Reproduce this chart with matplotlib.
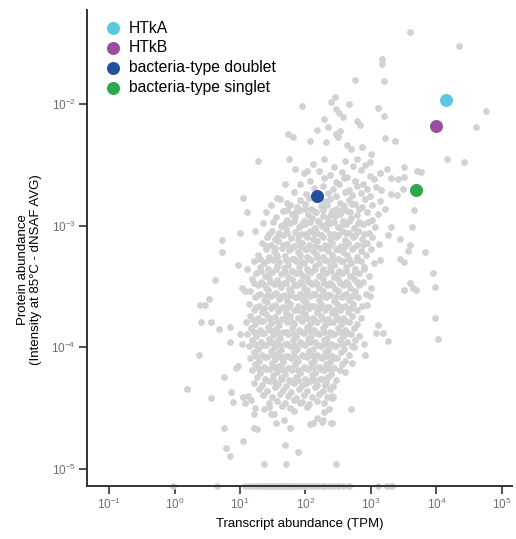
import numpy as np
import matplotlib
matplotlib.use("Agg")
import matplotlib.pyplot as plt
from matplotlib.ticker import FixedLocator, NullLocator

plt.rcParams["font.family"] = ["Liberation Sans", "DejaVu Sans"]
plt.rcParams["mathtext.fontset"] = "custom"
plt.rcParams["mathtext.rm"] = "Liberation Sans"
plt.rcParams["mathtext.default"] = "regular"
plt.rcParams["axes.unicode_minus"] = False

# all proteins, (log10 TPM, log10 dNSAF)
upper_tail = [
    (3.59, -1.41), (4.35, -1.52), (3.17, -1.63), (3.17, -1.67), (2.75, -1.80), (3.20, -1.81),
    (1.95, -2.02), (2.45, -1.94), (2.39, -1.98), (2.67, -2.00), (3.10, -2.03), (3.20, -2.10),
    (2.46, -2.04), (2.51, -2.07), (2.58, -2.11), (2.29, -2.12), (4.75, -2.06), (4.61, -2.19),
    (2.78, -2.14), (2.83, -2.17), (2.18, -2.21), (2.35, -2.19), (2.52, -2.22), (2.47, -2.25),
    (2.49, -2.27), (1.73, -2.25), (1.81, -2.27), (2.07, -2.30), (2.31, -2.31), (2.64, -2.34),
    (2.69, -2.37), (2.87, -2.35), (3.21, -2.28), (3.36, -2.30), (3.00, -2.41), (1.75, -2.45),
    (2.28, -2.45), (4.16, -2.45), (4.42, -2.48), (2.78, -2.45), (2.99, -2.48), (1.84, -2.53),
    (2.03, -2.55), (3.50, -2.52), (3.71, -2.55), (3.77, -2.56), (3.25, -2.53), (3.42, -2.62),
    (3.50, -2.60), (3.30, -2.61), (3.16, -2.71), (3.30, -2.74), (3.40, -2.75), (3.49, -2.70),
    (3.65, -2.87), (1.92, -2.66), (1.72, -2.81), (1.77, -2.83), (1.28, -2.47), (1.05, -2.77),
    (1.56, -2.77),
]

right_tail = [
    (3.63, -3.01), (3.44, -3.11), (3.59, -3.16), (3.57, -3.21), (3.83, -3.22), (3.31, -3.01),
    (3.26, -3.08), (3.12, -3.15), (3.14, -3.28), (3.44, -3.27), (3.50, -3.30), (3.94, -3.39),
    (3.97, -3.50), (3.59, -3.47), (3.64, -3.51), (3.68, -3.53), (3.51, -3.53), (3.97, -3.76),
    (4.02, -3.93), (3.26, -3.95), (3.11, -3.82), (3.18, -3.88), (3.08, -3.88), (2.98, -3.58),
    (2.94, -3.65), (2.91, -4.06), (2.89, -3.97), (2.71, -4.13), (2.42, -4.41), (2.70, -4.51),
    (2.41, -4.62), (2.74, -4.00), (2.61, -4.20),
]

left_tail = [
    (1.10, -2.89), (0.72, -3.12), (0.72, -3.22), (1.00, -3.06), (1.23, -3.04), (0.97, -3.32),
    (0.62, -3.45), (1.11, -3.36), (0.39, -3.65), (0.46, -3.65), (0.53, -3.60), (0.40, -3.79),
    (0.56, -3.79), (0.68, -3.85), (0.84, -3.83), (0.37, -4.06), (0.85, -3.96), (1.00, -3.89),
    (1.03, -3.97), (0.76, -4.24), (0.94, -4.17), (0.97, -4.15), (1.03, -3.51), (1.08, -3.54),
]

lower_tail = [
    (0.19, -4.34), (0.56, -4.42), (0.87, -4.37), (0.90, -4.45), (0.75, -4.66), (1.04, -4.77),
    (0.78, -4.83), (0.84, -4.89), (1.22, -4.66), (1.37, -4.96), (1.71, -4.96), (1.68, -4.80),
    (1.89, -4.86), (2.46, -4.96), (1.77, -4.66), (1.55, -4.62), (1.67, -4.60), (2.07, -4.63),
    (2.11, -4.62), (2.18, -4.58), (2.27, -4.60), (2.39, -4.62), (2.28, -4.53), (2.36, -4.51),
    (1.23, -4.50), (1.22, -4.55), (1.48, -4.55), (1.52, -4.55), (2.40, -4.42), (2.41, -4.40),
    (2.30, -4.31), (1.04, -4.41), (1.12, -4.40), (1.17, -4.43), (1.07, -4.46), (1.36, -4.51),
    (1.44, -4.46), (1.44, -4.49), (1.64, -4.48), (1.77, -4.50), (1.82, -4.52), (1.91, -4.46),
    (2.03, -4.49), (1.26, -4.67), (2.25, -4.61),
]

core = [
    (2.12, -2.49), (2.43, -2.52), (2.60, -2.47), (2.73, -2.51), (2.91, -2.50),
    (1.98, -2.57), (2.21, -2.55), (2.38, -2.58), (2.55, -2.56), (2.64, -2.60), (2.84, -2.54), (2.99, -2.59), (3.13, -2.57),
    (2.07, -2.63), (2.29, -2.61), (2.47, -2.64), (2.59, -2.61), (2.76, -2.63), (2.88, -2.66), (3.04, -2.62),
    (1.68, -2.66), (2.13, -2.69), (2.26, -2.67), (2.42, -2.70), (2.51, -2.66), (2.67, -2.71), (2.79, -2.67), (2.94, -2.70), (3.08, -2.68),
    (1.83, -2.72), (2.01, -2.74), (2.34, -2.73), (2.46, -2.76), (2.60, -2.72), (2.71, -2.75), (2.84, -2.73), (2.99, -2.76),
    (1.61, -2.78), (1.91, -2.79), (2.05, -2.77), (2.28, -2.80), (2.37, -2.78), (2.53, -2.81), (2.66, -2.79), (2.75, -2.82), (2.91, -2.78), (3.14, -2.80),
    (1.47, -2.83), (1.87, -2.85), (1.99, -2.82), (2.09, -2.86), (2.23, -2.84), (2.33, -2.83), (2.47, -2.86), (2.59, -2.84), (2.71, -2.82), (2.86, -2.85), (3.01, -2.83), (3.21, -2.86),
    (1.40, -2.89), (1.65, -2.88), (1.80, -2.90), (1.92, -2.87), (2.04, -2.91), (2.16, -2.89), (2.27, -2.92), (2.41, -2.88), (2.52, -2.90), (2.64, -2.88), (2.78, -2.91), (2.94, -2.89), (3.10, -2.90),
    (1.55, -2.93), (1.72, -2.95), (1.84, -2.93), (1.98, -2.96), (2.10, -2.94), (2.20, -2.97), (2.35, -2.94), (2.45, -2.92), (2.58, -2.96), (2.70, -2.94), (2.82, -2.97), (3.02, -2.95),
    (1.35, -2.98), (1.62, -3.00), (1.76, -2.98), (1.90, -3.01), (2.00, -2.99), (2.14, -3.02), (2.25, -3.00), (2.38, -2.98), (2.49, -3.01), (2.62, -2.99), (2.74, -3.02), (2.88, -2.99), (3.06, -3.01),
    (1.49, -3.04), (1.60, -3.06), (1.70, -3.03), (1.84, -3.05), (1.94, -3.07), (2.07, -3.04), (2.18, -3.06), (2.31, -3.03), (2.43, -3.07), (2.55, -3.04), (2.66, -3.06), (2.80, -3.04), (2.97, -3.06),
    (1.41, -3.09), (1.54, -3.11), (1.65, -3.08), (1.78, -3.10), (1.88, -3.12), (2.02, -3.09), (2.12, -3.11), (2.24, -3.08), (2.37, -3.11), (2.46, -3.09), (2.60, -3.12), (2.72, -3.09), (2.86, -3.11), (3.02, -3.09),
    (1.33, -3.14), (1.47, -3.16), (1.58, -3.13), (1.72, -3.15), (1.82, -3.17), (1.95, -3.14), (2.06, -3.16), (2.18, -3.13), (2.30, -3.16), (2.40, -3.14), (2.54, -3.17), (2.65, -3.14), (2.78, -3.16), (2.94, -3.14),
    (1.39, -3.19), (1.52, -3.21), (1.64, -3.18), (1.75, -3.20), (1.88, -3.22), (1.99, -3.19), (2.11, -3.21), (2.22, -3.18), (2.35, -3.21), (2.47, -3.19), (2.57, -3.22), (2.71, -3.19), (2.85, -3.21), (3.00, -3.19),
    (1.28, -3.24), (1.44, -3.26), (1.55, -3.23), (1.68, -3.25), (1.80, -3.27), (1.92, -3.24), (2.03, -3.26), (2.16, -3.23), (2.27, -3.26), (2.40, -3.24), (2.50, -3.27), (2.63, -3.24), (2.78, -3.26), (2.92, -3.24),
    (1.22, -3.29), (1.36, -3.31), (1.50, -3.28), (1.60, -3.30), (1.74, -3.32), (1.85, -3.29), (1.97, -3.31), (2.09, -3.28), (2.20, -3.31), (2.34, -3.29), (2.44, -3.32), (2.58, -3.29), (2.69, -3.31), (2.84, -3.29), (3.05, -3.31),
    (1.31, -3.34), (1.42, -3.36), (1.56, -3.33), (1.67, -3.35), (1.79, -3.37), (1.90, -3.34), (2.02, -3.36), (2.15, -3.33), (2.26, -3.36), (2.37, -3.34), (2.51, -3.37), (2.62, -3.34), (2.76, -3.36), (2.90, -3.34),
    (1.25, -3.39), (1.38, -3.41), (1.49, -3.38), (1.62, -3.40), (1.73, -3.42), (1.86, -3.39), (1.96, -3.41), (2.09, -3.38), (2.21, -3.41), (2.31, -3.39), (2.44, -3.42), (2.56, -3.39), (2.68, -3.41), (2.82, -3.39), (2.97, -3.41),
    (1.19, -3.44), (1.32, -3.46), (1.45, -3.43), (1.57, -3.45), (1.67, -3.47), (1.80, -3.44), (1.92, -3.46), (2.03, -3.43), (2.15, -3.46), (2.27, -3.44), (2.38, -3.47), (2.50, -3.44), (2.62, -3.46), (2.74, -3.44), (2.88, -3.46),
    (1.28, -3.49), (1.39, -3.51), (1.52, -3.48), (1.63, -3.50), (1.75, -3.52), (1.87, -3.49), (1.98, -3.51), (2.10, -3.48), (2.21, -3.51), (2.33, -3.49), (2.45, -3.52), (2.57, -3.49), (2.68, -3.51), (2.82, -3.49), (3.00, -3.51),
    (1.16, -3.54), (1.31, -3.56), (1.43, -3.53), (1.55, -3.55), (1.68, -3.57), (1.78, -3.54), (1.91, -3.56), (2.02, -3.53), (2.15, -3.56), (2.26, -3.54), (2.38, -3.57), (2.49, -3.54), (2.62, -3.56), (2.75, -3.54), (2.92, -3.56),
    (1.23, -3.59), (1.36, -3.61), (1.48, -3.58), (1.60, -3.60), (1.72, -3.62), (1.84, -3.59), (1.96, -3.61), (2.07, -3.58), (2.20, -3.61), (2.31, -3.59), (2.43, -3.62), (2.55, -3.59), (2.66, -3.61), (2.80, -3.59),
    (1.13, -3.64), (1.29, -3.66), (1.41, -3.63), (1.54, -3.65), (1.65, -3.67), (1.77, -3.64), (1.89, -3.66), (2.01, -3.63), (2.13, -3.66), (2.24, -3.64), (2.36, -3.67), (2.48, -3.64), (2.60, -3.66), (2.72, -3.64), (2.87, -3.66),
    (1.21, -3.69), (1.34, -3.71), (1.47, -3.68), (1.58, -3.70), (1.70, -3.72), (1.83, -3.69), (1.94, -3.71), (2.06, -3.68), (2.17, -3.71), (2.30, -3.69), (2.41, -3.72), (2.53, -3.69), (2.65, -3.71), (2.78, -3.69),
    (1.16, -3.74), (1.28, -3.76), (1.40, -3.73), (1.53, -3.75), (1.64, -3.77), (1.76, -3.74), (1.88, -3.76), (2.00, -3.73), (2.11, -3.76), (2.24, -3.74), (2.35, -3.77), (2.47, -3.74), (2.58, -3.76), (2.71, -3.74), (2.84, -3.76),
    (1.09, -3.79), (1.23, -3.81), (1.35, -3.78), (1.48, -3.80), (1.59, -3.82), (1.72, -3.79), (1.83, -3.81), (1.95, -3.78), (2.07, -3.81), (2.18, -3.79), (2.30, -3.82), (2.42, -3.79), (2.54, -3.81), (2.66, -3.79), (2.78, -3.81),
    (1.17, -3.84), (1.30, -3.86), (1.42, -3.83), (1.55, -3.85), (1.66, -3.87), (1.79, -3.84), (1.90, -3.86), (2.02, -3.83), (2.13, -3.86), (2.26, -3.84), (2.37, -3.87), (2.49, -3.84), (2.61, -3.86), (2.74, -3.84),
    (1.11, -3.89), (1.25, -3.91), (1.37, -3.88), (1.50, -3.90), (1.61, -3.92), (1.74, -3.89), (1.85, -3.91), (1.97, -3.88), (2.09, -3.91), (2.20, -3.89), (2.33, -3.92), (2.44, -3.89), (2.57, -3.91), (2.69, -3.89), (2.82, -3.91),
    (1.19, -3.94), (1.32, -3.96), (1.44, -3.93), (1.57, -3.95), (1.68, -3.97), (1.81, -3.94), (1.92, -3.96), (2.04, -3.93), (2.15, -3.96), (2.28, -3.94), (2.39, -3.97), (2.52, -3.94), (2.63, -3.96), (2.76, -3.94),
    (1.14, -3.99), (1.27, -4.01), (1.39, -3.98), (1.52, -4.00), (1.63, -4.02), (1.76, -3.99), (1.87, -4.01), (1.99, -3.98), (2.11, -4.01), (2.23, -3.99), (2.35, -4.02), (2.46, -3.99), (2.59, -4.01), (2.71, -3.99),
    (1.21, -4.04), (1.34, -4.06), (1.47, -4.03), (1.58, -4.05), (1.71, -4.07), (1.82, -4.04), (1.95, -4.06), (2.06, -4.03), (2.18, -4.06), (2.30, -4.04), (2.41, -4.07), (2.54, -4.04), (2.66, -4.06),
    (1.16, -4.09), (1.29, -4.11), (1.41, -4.08), (1.54, -4.10), (1.65, -4.12), (1.78, -4.09), (1.89, -4.11), (2.02, -4.08), (2.13, -4.11), (2.25, -4.09), (2.37, -4.12), (2.48, -4.09), (2.61, -4.11),
    (1.23, -4.14), (1.36, -4.16), (1.49, -4.13), (1.60, -4.15), (1.73, -4.17), (1.84, -4.14), (1.97, -4.16), (2.08, -4.13), (2.20, -4.16), (2.32, -4.14), (2.43, -4.17), (2.56, -4.14),
    (1.19, -4.19), (1.31, -4.21), (1.44, -4.18), (1.56, -4.20), (1.68, -4.22), (1.80, -4.19), (1.92, -4.21), (2.04, -4.18), (2.15, -4.21), (2.28, -4.19), (2.39, -4.22), (2.52, -4.19),
    (1.26, -4.24), (1.38, -4.26), (1.51, -4.23), (1.62, -4.25), (1.75, -4.27), (1.86, -4.24), (1.99, -4.26), (2.10, -4.23), (2.22, -4.26), (2.35, -4.24), (2.46, -4.27),
    (1.21, -4.29), (1.34, -4.31), (1.46, -4.28), (1.58, -4.30), (1.70, -4.32), (1.83, -4.29), (1.94, -4.31), (2.07, -4.28), (2.18, -4.31), (2.31, -4.29), (2.42, -4.32),
    (1.29, -4.34), (1.41, -4.36), (1.54, -4.33), (1.66, -4.35), (1.78, -4.37), (1.90, -4.34), (2.02, -4.36), (2.14, -4.33), (2.26, -4.36), (2.37, -4.34),
    (1.35, -4.39), (1.49, -4.41), (1.61, -4.38), (1.73, -4.40), (1.86, -4.42), (1.97, -4.39), (2.10, -4.41), (2.21, -4.38), (2.33, -4.41),
    (1.57, -4.44), (1.69, -4.46), (1.82, -4.43), (1.94, -4.45), (2.06, -4.47), (2.17, -4.44), (2.29, -4.46),
]

# densest part of the cloud
core_fill = [
    (1.72, -2.87), (1.86, -2.89), (2.00, -2.86), (2.13, -2.88), (2.27, -2.87), (2.39, -2.90), (2.55, -2.87), (2.68, -2.89), (2.81, -2.86),
    (1.50, -2.97), (1.68, -2.98), (1.82, -2.96), (1.95, -2.99), (2.07, -2.97), (2.19, -2.96), (2.31, -2.99), (2.43, -2.97), (2.55, -2.99), (2.67, -2.96), (2.80, -2.98), (2.95, -2.97),
    (1.44, -3.07), (1.58, -3.08), (1.72, -3.06), (1.89, -3.08), (2.01, -3.07), (2.13, -3.06), (2.26, -3.09), (2.37, -3.07), (2.49, -3.08), (2.62, -3.06), (2.75, -3.08), (2.90, -3.07),
    (1.40, -3.17), (1.53, -3.18), (1.66, -3.16), (1.78, -3.18), (1.91, -3.17), (2.02, -3.19), (2.14, -3.17), (2.26, -3.18), (2.38, -3.16), (2.50, -3.19), (2.61, -3.17), (2.73, -3.18), (2.88, -3.16),
    (1.30, -3.27), (1.43, -3.28), (1.56, -3.26), (1.70, -3.28), (1.82, -3.27), (1.93, -3.29), (2.06, -3.27), (2.18, -3.26), (2.30, -3.28), (2.42, -3.27), (2.54, -3.29), (2.66, -3.27), (2.79, -3.28),
    (1.32, -3.37), (1.44, -3.38), (1.55, -3.36), (1.68, -3.38), (1.80, -3.37), (1.92, -3.39), (2.04, -3.37), (2.15, -3.36), (2.27, -3.38), (2.39, -3.37), (2.50, -3.39), (2.62, -3.37), (2.75, -3.38), (2.89, -3.36),
    (1.22, -3.47), (1.35, -3.48), (1.46, -3.46), (1.60, -3.48), (1.71, -3.47), (1.83, -3.49), (1.95, -3.47), (2.06, -3.46), (2.18, -3.48), (2.29, -3.47), (2.41, -3.49), (2.53, -3.47), (2.65, -3.48), (2.78, -3.46),
    (1.27, -3.57), (1.40, -3.58), (1.52, -3.56), (1.64, -3.58), (1.77, -3.57), (1.88, -3.59), (2.00, -3.57), (2.12, -3.56), (2.23, -3.58), (2.35, -3.57), (2.47, -3.59), (2.59, -3.57), (2.71, -3.58),
    (1.25, -3.67), (1.37, -3.68), (1.50, -3.66), (1.62, -3.68), (1.74, -3.67), (1.86, -3.69), (1.97, -3.67), (2.09, -3.66), (2.21, -3.68), (2.33, -3.67), (2.45, -3.69), (2.56, -3.67), (2.69, -3.68),
    (1.19, -3.77), (1.31, -3.78), (1.44, -3.76), (1.56, -3.78), (1.68, -3.77), (1.80, -3.79), (1.92, -3.77), (2.03, -3.76), (2.15, -3.78), (2.27, -3.77), (2.38, -3.79), (2.50, -3.77), (2.62, -3.78),
    (1.21, -3.87), (1.34, -3.88), (1.46, -3.86), (1.58, -3.88), (1.70, -3.87), (1.82, -3.89), (1.94, -3.87), (2.05, -3.86), (2.17, -3.88), (2.29, -3.87), (2.41, -3.89), (2.53, -3.87), (2.65, -3.88),
    (1.23, -3.97), (1.35, -3.98), (1.47, -3.96), (1.60, -3.98), (1.72, -3.97), (1.84, -3.99), (1.95, -3.97), (2.07, -3.96), (2.19, -3.98), (2.31, -3.97), (2.43, -3.99), (2.55, -3.97),
    (1.25, -4.07), (1.38, -4.08), (1.50, -4.06), (1.62, -4.08), (1.74, -4.07), (1.86, -4.09), (1.98, -4.07), (2.10, -4.06), (2.22, -4.08), (2.33, -4.07), (2.45, -4.09),
    (1.27, -4.17), (1.40, -4.18), (1.52, -4.16), (1.64, -4.18), (1.76, -4.17), (1.88, -4.19), (2.00, -4.17), (2.11, -4.16), (2.24, -4.18), (2.36, -4.17),
    (1.40, -4.27), (1.52, -4.28), (1.64, -4.26), (1.76, -4.28), (1.89, -4.27), (2.01, -4.29), (2.13, -4.27), (2.25, -4.26),
]

# proteins below the detection floor, pinned to the bottom of the axis
floor_log_nsaf = -5.14
floor_log_tpm = [
    -0.03, 0.65, 1.08, 1.15, 1.21, 1.26, 1.31, 1.36, 1.41, 1.46, 1.51, 1.55, 1.60, 1.64,
    1.69, 1.73, 1.78, 1.83, 1.87, 1.92, 1.97, 2.02, 2.08, 2.13, 2.19, 2.25, 2.30, 2.37,
    2.44, 2.50, 2.58, 2.66, 3.11, 3.25, 3.32,
]

# highlighted proteins
hl_labels = ["HTkA", "HTkB", "bacteria-type doublet", "bacteria-type singlet"]
hl_log_tpm = [4.15, 4.00, 2.17, 3.69]
hl_log_nsaf = [-1.97, -2.18, -2.76, -2.71]
hl_colors = ["#5bc8df", "#9a4c9e", "#22519e", "#2baa4b"]

x_ticks = [1e-1, 1e0, 1e1, 1e2, 1e3, 1e4, 1e5]
y_ticks = [1e-5, 1e-4, 1e-3, 1e-2]

gray = np.array(upper_tail + right_tail + left_tail + lower_tail + core + core_fill)
floor = np.array(floor_log_tpm)

fig = plt.figure(figsize=(5.16, 5.39), dpi=100)
ax = fig.add_axes([87 / 516, 1 - 486 / 539, 425 / 516, 476 / 539])

ax.scatter(10 ** gray[:, 0], 10 ** gray[:, 1], s=24, color="#d1d2d4",
           linewidths=0, zorder=2)
ax.scatter(10 ** floor, np.full(len(floor), 10 ** floor_log_nsaf), s=24,
           color="#d1d2d4", linewidths=0, zorder=2, clip_on=False)

for lab, x, y, c in zip(hl_labels, hl_log_tpm, hl_log_nsaf, hl_colors):
    ax.scatter(10 ** x, 10 ** y, s=88, color=c, linewidths=0, zorder=4, label=lab)

ax.set_xscale("log")
ax.set_yscale("log")
ax.set_xlim(10 ** -1.336, 10 ** 5.153)
ax.set_ylim(10 ** floor_log_nsaf, 10 ** -1.227)
ax.xaxis.set_major_locator(FixedLocator(x_ticks))
ax.yaxis.set_major_locator(FixedLocator(y_ticks))
ax.xaxis.set_minor_locator(NullLocator())
ax.yaxis.set_minor_locator(NullLocator())

for side in ["top", "right"]:
    ax.spines[side].set_visible(False)
for side in ["left", "bottom"]:
    ax.spines[side].set_color("#333333")
    ax.spines[side].set_linewidth(1.4)
    ax.spines[side].set_zorder(3)
ax.tick_params(axis="both", which="major", length=6, width=1.2, color="#333333",
               labelsize=8.5, labelcolor="#6d6e71", pad=2)

ax.set_xlabel("Transcript abundance (TPM)", fontsize=9.5, labelpad=4)
ax.set_ylabel("Protein abundance\n(Intensity at 85\u00b0C - dNSAF AVG)", fontsize=9.5,
              linespacing=1.15)
ax.yaxis.set_label_coords(-0.105, 0.455)

ax.legend(loc="upper left", bbox_to_anchor=(0.01, 0.991), frameon=False, fontsize=11.3,
          handletextpad=0.0, labelspacing=0.3, borderaxespad=0, markerscale=1.0,
          scatterpoints=1)

fig.savefig("out.png", dpi=100)
